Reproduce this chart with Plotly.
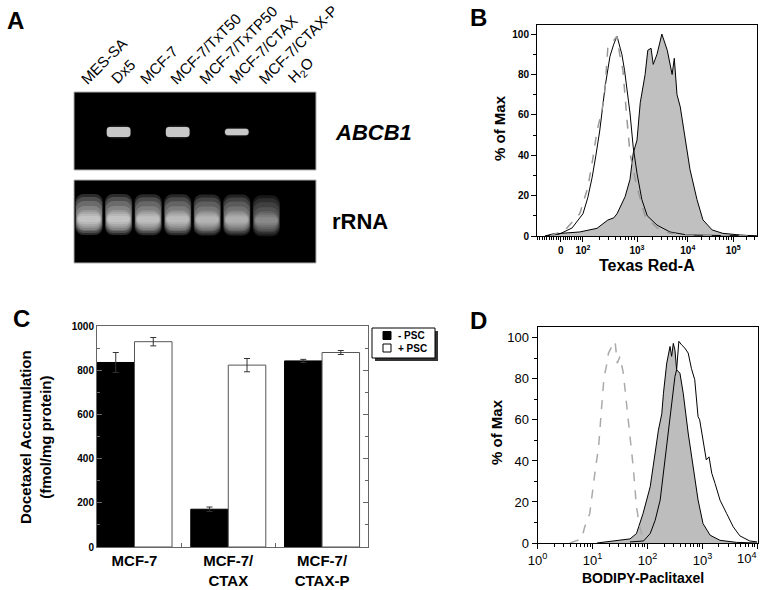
import plotly.graph_objects as go
import math

W, H = 764, 590
FONT = "Liberation Sans, Arial, sans-serif"


def px(x):
    return x / W


def py(y):
    return 1 - y / H


# ---- Panel A: RT-PCR gel (band strength per lane, 0..1) ----
lanes = ["MES-SA", "Dx5", "MCF-7", "MCF-7/TxT50", "MCF-7/TxTP50",
         "MCF-7/CTAX", "MCF-7/CTAX-P", "H<sub>2</sub>O"]
abcb1 = [0, 1.0, 0, 1.0, 0, 0.65, 0, 0]
rrna = [1.0, 1.0, 0.95, 0.9, 0.85, 0.8, 0.55, 0]

# ---- Panel B: Texas Red-A histograms (logicle display units, % of max) ----
b_tick_pos = [1.59, 2.0, 3.0, 3.94, 4.78]
b_tick_text = ["0", "10<sup>2</sup>", "10<sup>3</sup>", "10<sup>4</sup>", "10<sup>5</sup>"]
b_ctrl_x = [1.39, 1.67, 1.94, 2.09, 2.18, 2.26, 2.35, 2.40, 2.46, 2.54, 2.63, 2.68, 2.74,
            2.81, 2.87, 3.00, 3.15, 3.37, 3.61, 3.98, 5.22]
b_ctrl_y = [0, 3, 11, 24, 38, 52, 62, 70, 93, 96, 99, 90, 82, 59, 41, 24, 10, 4, 1.4, 0.3, 0]
b_open_x = [1.30, 1.57, 1.80, 2.00, 2.09, 2.17, 2.24, 2.31, 2.41, 2.50, 2.57, 2.63, 2.69,
            2.72, 2.77, 2.81, 2.87, 2.93, 3.00, 3.09, 3.19, 3.37, 3.61, 3.93, 4.54, 5.22]
b_open_y = [0, 1, 4, 11, 19, 29, 40, 52, 74, 89, 95, 99, 93, 90, 82, 74, 61, 44, 31, 18,
            10, 5.4, 2, 0.5, 0.2, 0]
b_fill_x = [1.30, 1.44, 1.94, 2.26, 2.46, 2.57, 2.63, 2.78, 2.87, 2.93, 3.00, 3.06, 3.15,
            3.20, 3.26, 3.30, 3.37, 3.46, 3.56, 3.65, 3.69, 3.74, 3.80, 3.89, 3.98, 4.11,
            4.22, 4.39, 4.59, 4.91, 5.22]
b_fill_y = [0, 1, 2, 3.8, 7.9, 9, 11, 19.5, 28, 41, 47.5, 66, 80, 92, 93, 85, 90, 100, 92,
            80, 88, 70, 64, 49, 33, 18, 8, 3, 1.3, 0.5, 0]

# ---- Panel C: docetaxel accumulation (fmol/mg protein) ----
cells = ["MCF-7", "MCF-7/<br>CTAX", "MCF-7/<br>CTAX-P"]
minus_psc = [835, 171, 842]
minus_err = [45, 10, 7]
plus_psc = [929, 823, 880]
plus_err = [19, 30, 9]
legend_names = ["- PSC", "+ PSC"]

# ---- Panel D: BODIPY-Paclitaxel histograms (% of max) ----
d_tick_vals = [1, 10, 100, 1000, 10000]
d_tick_text = ["10<sup>0</sup>", "10<sup>1</sup>", "10<sup>2</sup>", "10<sup>3</sup>", "10<sup>4</sup>"]
d_ctrl_x = [3.9, 6.3, 7.2, 8.9, 11.2, 12.9, 14.8, 16.2, 17.8, 19.5, 22.4, 25.7, 28.2, 31.6,
            36.3, 41.7, 47.9, 55, 63, 72.4, 83, 89]
d_ctrl_y = [0, 2, 7.8, 14.4, 35.6, 47, 68, 81, 86, 92.6, 95.8, 98.3, 87.7, 91, 82.8, 68,
            55, 37, 17.6, 7.8, 2, 0]
d_fill_x = [12, 27.5, 48, 63, 83, 112, 138, 158, 182, 195, 224, 240, 257, 275, 295, 316,
            339, 389, 447, 550, 676, 832, 1023, 1380, 2089, 4169, 9772]
d_fill_y = [0, 1, 2, 4.6, 14.4, 27.4, 43.7, 55, 63, 73, 87.7, 92.6, 95.8, 91, 97.3, 94,
            84.4, 82.8, 73, 53.6, 37, 21, 9.5, 3.8, 1.3, 0.3, 0]
d_open_x = [48, 85, 112, 138, 170, 209, 251, 288, 316, 339, 372, 417, 479, 550, 631, 724,
            832, 891, 1000, 1175, 1318, 1479, 1698, 2089, 2754, 3631, 4786, 7244, 10000]
d_open_y = [0.5, 1, 4.6, 11.1, 20.9, 40.5, 60, 73, 81.2, 84.5, 98.3, 96.6, 95, 92.6, 85,
            79.6, 61.6, 60, 51.9, 40.5, 42, 34, 29, 20.9, 14.4, 7.9, 3.5, 1, 0.5]

fig = go.Figure()
lane_idx = list(range(len(lanes)))

# gel bands: soft glow + band for ABCB1
fig.add_trace(go.Bar(x=lane_idx, y=[13 * s for s in abcb1], base=[38 - 6.5 * s for s in abcb1],
                     width=0.86, marker=dict(color="rgba(205,205,205,0.15)", cornerradius=6, line_width=0),
                     xaxis="x", yaxis="y", showlegend=False, hoverinfo="skip"))
fig.add_trace(go.Bar(x=lane_idx, y=[10 * s for s in abcb1], base=[38 - 5 * s for s in abcb1],
                     width=0.8, marker=dict(color="rgb(200,200,200)", cornerradius=3, line_width=0),
                     xaxis="x", yaxis="y", showlegend=False, hoverinfo="skip"))

# rRNA smears: nested translucent layers (bottom, top, width) for a soft blob
layers = [(28, 69, 0.92), (30, 66, 0.90), (32, 62, 0.88), (33, 57, 0.86),
          (35, 53, 0.84), (37, 51, 0.82), (39, 49, 0.79), (41, 47, 0.74)]
for lo, hi, wid in layers:
    fig.add_trace(go.Bar(x=lane_idx, y=[hi - lo if r > 0 else 0 for r in rrna],
                         base=[lo - 3 * (1 - r) for r in rrna], width=wid,
                         marker=dict(color=[f"rgba(255,255,255,{0.17 * r:.3f})" for r in rrna],
                                     cornerradius=8, line_width=0),
                         xaxis="x2", yaxis="y2", showlegend=False, hoverinfo="skip"))

# panel B
fig.add_trace(go.Scatter(x=b_fill_x, y=b_fill_y, fill="tozeroy", fillcolor="#c0c0c0",
                         line=dict(color="black", width=1), mode="lines",
                         xaxis="x3", yaxis="y3", showlegend=False))
fig.add_trace(go.Scatter(x=b_open_x, y=b_open_y, line=dict(color="black", width=1), mode="lines",
                         xaxis="x3", yaxis="y3", showlegend=False))
fig.add_trace(go.Scatter(x=b_ctrl_x, y=b_ctrl_y, line=dict(color="#999999", width=1.5, dash="dash"),
                         mode="lines", xaxis="x3", yaxis="y3", showlegend=False))

# panel C
fig.add_trace(go.Bar(x=cells, y=minus_psc, name=legend_names[0], offset=-0.4, width=0.4,
                     marker=dict(color="black", line=dict(color="black", width=1)),
                     error_y=dict(type="data", array=minus_err, color="#333333", thickness=1, width=3),
                     xaxis="x4", yaxis="y4", showlegend=False))
fig.add_trace(go.Bar(x=cells, y=plus_psc, name=legend_names[1], offset=0, width=0.4,
                     marker=dict(color="white", line=dict(color="#555555", width=1)),
                     error_y=dict(type="data", array=plus_err, color="#333333", thickness=1, width=3),
                     xaxis="x4", yaxis="y4", showlegend=False))

# panel D
fig.add_trace(go.Scatter(x=d_fill_x, y=d_fill_y, fill="tozeroy", fillcolor="#bdbdbd",
                         line=dict(color="black", width=1), mode="lines",
                         xaxis="x5", yaxis="y5", showlegend=False))
fig.add_trace(go.Scatter(x=d_open_x, y=d_open_y, line=dict(color="black", width=1), mode="lines",
                         xaxis="x5", yaxis="y5", showlegend=False))
fig.add_trace(go.Scatter(x=d_ctrl_x, y=d_ctrl_y, line=dict(color="#aaaaaa", width=1.5, dash="dash"),
                         mode="lines", xaxis="x5", yaxis="y5", showlegend=False))

# minor tick positions for the logicle axis in B
b_minor = []
for k in range(1, 11):
    b_minor.append(1.59 - k * 0.043)
for k in range(1, 10):
    b_minor.append(1.59 + k * 0.041)
decades = [(2.0, 3.0), (3.0, 3.94), (3.94, 4.78), (4.78, 5.62)]
for lo, hi in decades:
    for k in range(2, 10):
        v = lo + math.log10(k) * (hi - lo)
        if v < 5.22:
            b_minor.append(v)
d_minor = [k * 10 ** e for e in range(0, 4) for k in range(2, 10)]

hist_axis = dict(showline=True, mirror=True, linecolor="black", linewidth=1,
                 showgrid=False, zeroline=False, ticks="outside", ticklen=5,
                 tickcolor="black", automargin=False)

fig.update_layout(
    width=W, height=H,
    margin=dict(l=0, r=0, t=0, b=0),
    paper_bgcolor="white", plot_bgcolor="white",
    barmode="overlay", showlegend=False,
    font=dict(family=FONT, color="black"),
    xaxis=dict(domain=[px(74), px(316)], range=[-0.51, 7.68], visible=False, anchor="y"),
    yaxis=dict(domain=[py(170), py(92)], range=[0, 78], visible=False, anchor="x"),
    xaxis2=dict(domain=[px(74), px(316)], range=[-0.51, 7.68], visible=False, anchor="y2"),
    yaxis2=dict(domain=[py(263), py(180)], range=[0, 83], visible=False, anchor="x2"),
    xaxis3=dict(hist_axis, domain=[px(537), px(757)], range=[1.15, 5.22], anchor="y3",
                tickvals=b_tick_pos, ticktext=b_tick_text,
                tickfont=dict(size=10, weight="bold"),
                minor=dict(tickvals=b_minor, ticks="outside", ticklen=3, tickcolor="black")),
    yaxis3=dict(hist_axis, domain=[py(236), py(25)], range=[0, 104.5], anchor="x3",
                tick0=0, dtick=20, tickfont=dict(size=10, weight="bold"),
                minor=dict(dtick=10, ticks="outside", ticklen=3, tickcolor="black")),
    xaxis4=dict(domain=[px(97), px(368)], type="category", range=[-0.4, 2.49], anchor="y4",
                showline=True, mirror=True, linecolor="#666666", showgrid=False,
                ticks="inside", tickson="boundaries", ticklen=4, tickcolor="#666666",
                tickfont=dict(size=15, weight="bold"), automargin=False),
    yaxis4=dict(domain=[py(547), py(326)], range=[0, 1000], anchor="x4",
                showline=True, mirror="ticks", linecolor="#666666", showgrid=False, zeroline=False,
                ticks="inside", ticklen=5, tickcolor="#666666", dtick=200,
                tickfont=dict(size=10, weight="bold"), automargin=False,
                minor=dict(dtick=100, ticks="inside", ticklen=3, tickcolor="#666666")),
    # last decade label sits at the frame edge, so it is drawn right-aligned below
    xaxis5=dict(hist_axis, domain=[px(537.5), px(757.5)], type="log", range=[-0.002, 4.002],
                anchor="y5", tickvals=d_tick_vals, ticktext=d_tick_text[:-1] + [""],
                tickfont=dict(size=13),
                minor=dict(tickvals=d_minor, ticks="outside", ticklen=3, tickcolor="black")),
    yaxis5=dict(hist_axis, domain=[py(543), py(327)], range=[0, 105.3], anchor="x5",
                tick0=0, dtick=20, tickfont=dict(size=13),
                minor=dict(dtick=10, ticks="outside", ticklen=3, tickcolor="black")),
)
fig.add_annotation(text=d_tick_text[-1], xref="paper", yref="paper", x=px(759), y=py(548),
                   xanchor="right", yanchor="top", showarrow=False, font=dict(size=13))

# gel backgrounds
for xr, yr in [("x", "y"), ("x2", "y2")]:
    fig.add_shape(type="rect", xref=f"{xr} domain", yref=f"{yr} domain", x0=0, x1=1, y0=0, y1=1,
                  fillcolor="black", line=dict(color="#b0b0b0", width=1), layer="below")

# panel C key: shadow, box, swatches, labels
fig.add_shape(type="rect", xref="paper", yref="paper", x0=px(375), x1=px(438), y0=py(361), y1=py(331),
              fillcolor="#333333", line_width=0)
fig.add_shape(type="rect", xref="paper", yref="paper", x0=px(372), x1=px(435), y0=py(358), y1=py(328),
              fillcolor="white", line=dict(color="black", width=1))
swatch_fill = ["black", "white"]
for i, name in enumerate(legend_names):
    yc = 335.5 + 12.5 * i
    fig.add_shape(type="rect", xref="paper", yref="paper", x0=px(383), x1=px(391),
                  y0=py(yc + 4), y1=py(yc - 4), fillcolor=swatch_fill[i],
                  line=dict(color="black", width=1))
    fig.add_annotation(text=f"<b>{name}</b>", xref="paper", yref="paper", x=px(396), y=py(yc),
                       xanchor="left", yanchor="middle", showarrow=False, font=dict(size=10))

# lane labels
for i, name in enumerate(lanes):
    fig.add_annotation(text=name, xref="x", yref="paper", x=i, y=py(90), xshift=-14,
                       xanchor="left", yanchor="bottom", textangle=-45, showarrow=False,
                       font=dict(size=15))

texts = [
    ("<b>A</b>", 15, 21, 24, 0),
    ("<b>B</b>", 479, 18, 24, 0),
    ("<b>C</b>", 21, 318, 24, 0),
    ("<b>D</b>", 478, 320, 24, 0),
    ("<b><i>ABCB1</i></b>", 373, 132, 22, 0),
    ("<b>rRNA</b>", 360, 221, 22, 0),
    ("<b>% of Max</b>", 499, 128, 15, -90),
    ("<b>Texas Red-A</b>", 647, 265, 16, 0),
    ("<b>Docetaxel Accumulation<br>(fmol/mg protein)</b>", 35, 437, 15, -90),
    ("<b>% of Max</b>", 496, 432, 15, -90),
    ("<b>BODIPY-Paclitaxel</b>", 643, 578, 14, 0),
]
for t, x, y, s, ang in texts:
    fig.add_annotation(text=t, xref="paper", yref="paper", x=px(x), y=py(y), xanchor="center",
                       yanchor="middle", textangle=ang, showarrow=False, font=dict(size=s))

fig.write_html("out.html", config={"displayModeBar": False},
               post_script="document.body.style.margin='0';document.body.style.overflow='hidden';")
